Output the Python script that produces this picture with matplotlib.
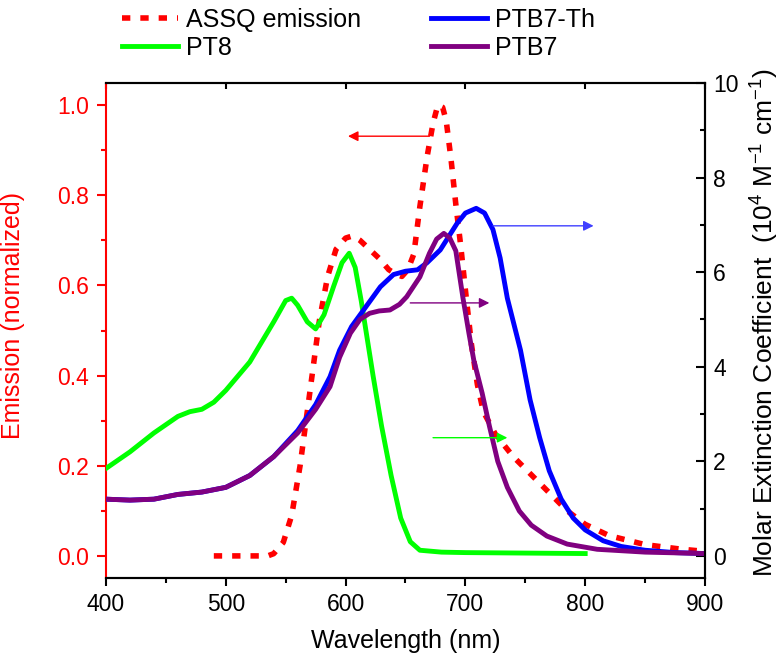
import matplotlib
matplotlib.use("Agg")
import matplotlib.pyplot as plt
from matplotlib.ticker import MultipleLocator

plt.rcParams['font.family'] = ['Liberation Sans', 'DejaVu Sans']
plt.rcParams['mathtext.fontset'] = 'custom'
plt.rcParams['mathtext.rm'] = 'Liberation Sans'
plt.rcParams['mathtext.it'] = 'Liberation Sans:italic'

# ---- data ----
assq_wl = [490, 500, 520, 535, 540, 548, 555, 562, 570, 578, 585, 592, 600, 606, 612, 620, 628,
           636, 642, 647, 652, 657, 662, 668, 673, 677, 681, 684, 688, 692, 696, 700, 705, 710,
           715, 725, 740, 755, 770, 785, 800, 820, 850, 880, 900]
assq_em = [0.0, 0.0, 0.0, 0.0, 0.005, 0.03, 0.09, 0.2, 0.36, 0.52, 0.62, 0.68, 0.705, 0.71, 0.70, 0.68, 0.66,
           0.635, 0.625, 0.62, 0.635, 0.67, 0.775, 0.885, 0.96, 1.0, 0.995, 0.965, 0.88, 0.78, 0.69, 0.59, 0.47,
           0.38, 0.32, 0.27, 0.22, 0.18, 0.14, 0.10, 0.07, 0.045, 0.025, 0.015, 0.01]

pt8_wl = [400, 420, 440, 460, 470, 480, 490, 500, 520, 540, 550, 555, 560, 568, 575, 582, 590,
          597, 603, 608, 613, 618, 623, 630, 638, 646, 654, 662, 680, 700, 750, 800]
pt8_ext = [1.85, 2.2, 2.6, 2.95, 3.05, 3.1, 3.25, 3.5, 4.1, 4.95, 5.4, 5.45, 5.3, 4.95, 4.8, 5.1, 5.7,
           6.2, 6.4, 6.1, 5.4, 4.6, 3.8, 2.75, 1.7, 0.8, 0.3, 0.12, 0.08, 0.07, 0.06, 0.05]

ptb7th_wl = [400, 420, 440, 460, 480, 500, 520, 540, 560, 575, 587, 595, 605, 615, 629, 640, 650,
             660, 668, 679, 686, 693, 700, 709, 716, 723, 729, 735, 741, 746, 754, 762, 770, 780,
             790, 800, 815, 830, 850, 875, 900]
ptb7th_ext = [1.2, 1.18, 1.2, 1.3, 1.35, 1.45, 1.7, 2.1, 2.65, 3.2, 3.79, 4.35, 4.85, 5.2, 5.69, 5.95, 6.02,
              6.05, 6.2, 6.47, 6.75, 7.03, 7.25, 7.35, 7.25, 6.9, 6.3, 5.45, 4.85, 4.35, 3.3, 2.5, 1.8, 1.2,
              0.8, 0.55, 0.32, 0.2, 0.12, 0.07, 0.05]

ptb7_wl = [400, 420, 440, 460, 480, 500, 520, 540, 560, 575, 587, 595, 604, 612, 620, 628, 637, 645,
           651, 662, 670, 676, 682, 687, 692, 698, 703, 707, 714, 720, 727, 735, 745, 755, 768, 785,
           810, 850, 900]
ptb7_ext = [1.2, 1.18, 1.2, 1.3, 1.35, 1.45, 1.7, 2.1, 2.6, 3.1, 3.58, 4.2, 4.71, 5.0, 5.13, 5.18, 5.2, 5.32,
            5.48, 5.9, 6.4, 6.7, 6.82, 6.72, 6.45, 5.45, 4.7, 4.14, 3.44, 2.75, 2.0, 1.45, 0.95, 0.65, 0.42, 0.25,
            0.14, 0.08, 0.05]

x_ticks = [400, 500, 600, 700, 800, 900]
left_ticks = [0.0, 0.2, 0.4, 0.6, 0.8, 1.0]
right_ticks = [0, 2, 4, 6, 8, 10]

# ---- figure ----
fig = plt.figure(figsize=(7.8, 6.61), dpi=100)
ax1 = fig.add_axes([106/780, 1-578/661, (705-106)/780, (578-83)/661])
ax2 = ax1.twinx()

RED = '#ff0000'
GREEN = '#00ff00'
BLUE = '#0000ff'
PURPLE = '#800080'

l_red, = ax1.plot(assq_wl, assq_em, color=RED, lw=4.0, linestyle=(0, (1.5, 1.8)),
                  dash_capstyle='butt', label='ASSQ emission')
l_g, = ax2.plot(pt8_wl, pt8_ext, color=GREEN, lw=3.5, label='PT8', solid_joinstyle='round')
l_b, = ax2.plot(ptb7th_wl, ptb7th_ext, color=BLUE, lw=3.5, label='PTB7-Th', solid_joinstyle='round')
l_p, = ax2.plot(ptb7_wl, ptb7_ext, color=PURPLE, lw=3.5, label='PTB7', solid_joinstyle='round')

ax1.set_xlim(400, 900)
ax1.set_ylim(-0.049, 1.049)
ax2.set_ylim(-0.049 * 9.53, 1.049 * 9.53)

ax1.set_xticks(x_ticks)
ax1.xaxis.set_minor_locator(MultipleLocator(50))
ax1.set_yticks(left_ticks)
ax1.set_yticklabels([f'{v:.1f}' for v in left_ticks])
ax1.yaxis.set_minor_locator(MultipleLocator(0.1))
ax2.set_yticks(right_ticks)
ax2.yaxis.set_minor_locator(MultipleLocator(1))

fs = 16.5
ax1.tick_params(axis='x', which='major', direction='out', length=6, width=1.5, labelsize=fs, pad=5)
ax1.tick_params(axis='x', which='minor', direction='out', length=3.5, width=1.5)
ax1.tick_params(axis='y', which='major', direction='out', length=6.5, width=1.5, labelsize=fs,
                colors=RED, pad=6)
ax1.tick_params(axis='y', which='minor', direction='out', length=3.5, width=1.5, colors=RED)
ax2.tick_params(axis='y', which='major', direction='in', length=6.5, width=1.5, labelsize=fs, pad=6)
ax2.tick_params(axis='y', which='minor', direction='in', length=3.5, width=1.5)

for sp in ['top', 'bottom', 'right']:
    ax1.spines[sp].set_linewidth(1.5)
    ax2.spines[sp].set_linewidth(1.5)
ax1.spines['left'].set_color(RED)
ax1.spines['left'].set_linewidth(1.5)
ax2.spines['left'].set_visible(False)

# top major ticks pointing inward
ax1.tick_params(axis='x', which='major', top=True, labeltop=False)
ax1.tick_params(axis='x', which='minor', top=False)
for t in ax1.xaxis.get_major_ticks():
    t.tick2line.set_marker(3)
    t.tick2line.set_markersize(4)

ax1.set_xlabel('Wavelength (nm)', fontsize=18, labelpad=9)
ax1.set_ylabel('Emission (normalized)', fontsize=18, color=RED)
ax1.yaxis.set_label_coords(-0.135, 0.531)
ax2.set_ylabel(r'Molar Extinction Coefficient  (10$^{4}$ M$^{-1}$ cm$^{-1}$)', fontsize=19)
ax2.yaxis.set_label_coords(1.073, 0.515)

# arrows
arr = dict(arrowstyle='-|>', lw=1.0, mutation_scale=15, shrinkA=0, shrinkB=0)
ax1.annotate('', xy=(602, 0.931), xytext=(670, 0.931), arrowprops=dict(arr, color=RED))
ax2.annotate('', xy=(807, 6.98), xytext=(723, 6.98), arrowprops=dict(arr, color='#4040ff'))
ax2.annotate('', xy=(720, 5.35), xytext=(654, 5.35), arrowprops=dict(arr, color=PURPLE))
ax2.annotate('', xy=(735, 2.5), xytext=(673, 2.5), arrowprops=dict(arr, color=GREEN))

fig.legend(handles=[l_red, l_g, l_b, l_p], loc='upper left', bbox_to_anchor=(122/780, 1 - 8/661),
           ncol=2, frameon=False, fontsize=18, handlelength=2.24, handletextpad=0.32,
           columnspacing=2.8, labelspacing=0.15, borderpad=0, borderaxespad=0)

fig.savefig('out.png', dpi=100)
